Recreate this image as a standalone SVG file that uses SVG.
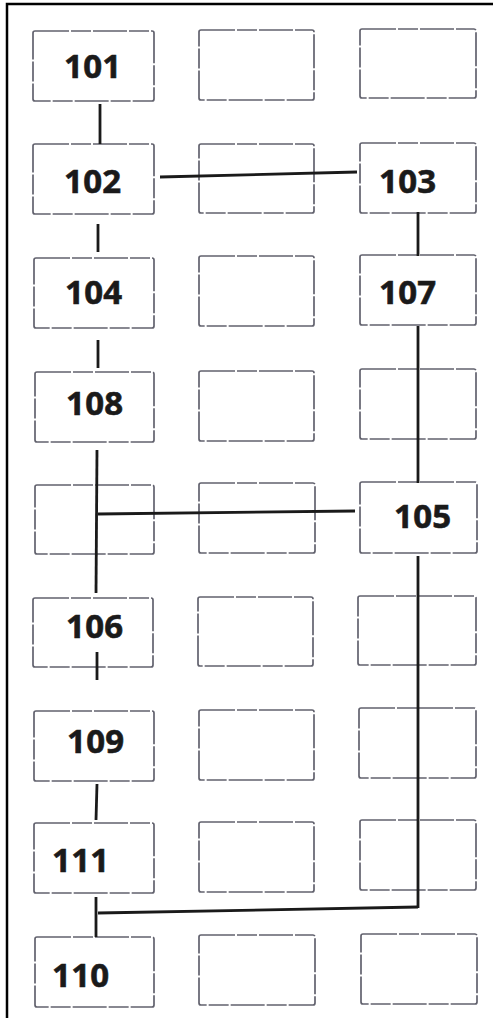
<svg xmlns="http://www.w3.org/2000/svg" width="493" height="1018" viewBox="0 0 493 1018">
<style>
.box{fill:#fff;stroke:#62626e;stroke-width:1.7;stroke-dasharray:34 2 20 2}
.lbl{font-family:"Open Sans","Liberation Sans",sans-serif;font-weight:bold;font-size:33px;fill:#1a1a1a;stroke:#1a1a1a;stroke-width:0.6;letter-spacing:0.3px}
.con{stroke:#1a1a1a;stroke-width:2.8;fill:none;stroke-linecap:butt}
.frame{stroke:#000;stroke-width:2.5;fill:none}
</style>
<rect width="493" height="1018" fill="#fff"/>
<path class="frame" d="M7,1018 V4 H493"/>
<g id="nodes">
<g id="n101"><rect class="box" x="33" y="31" width="121" height="70" rx="2"/><text class="lbl" x="64" y="78">101</text></g>
<g id="r1c2"><rect class="box" x="199" y="30" width="115" height="70" rx="2"/></g>
<g id="r1c3"><rect class="box" x="360" y="29" width="116" height="69" rx="2"/></g>
<g id="n102"><rect class="box" x="33" y="144" width="121" height="70" rx="2"/><text class="lbl" x="64" y="193">102</text></g>
<g id="r2c2"><rect class="box" x="199" y="144" width="115" height="69" rx="2"/></g>
<g id="n103"><rect class="box" x="360" y="143" width="116" height="70" rx="2"/><text class="lbl" x="379" y="193">103</text></g>
<g id="n104"><rect class="box" x="34" y="258" width="120" height="70" rx="2"/><text class="lbl" x="65" y="304">104</text></g>
<g id="r3c2"><rect class="box" x="199" y="256" width="115" height="70" rx="2"/></g>
<g id="n107"><rect class="box" x="360" y="255" width="116" height="70" rx="2"/><text class="lbl" x="379" y="304">107</text></g>
<g id="n108"><rect class="box" x="35" y="372" width="119" height="70" rx="2"/><text class="lbl" x="66" y="415">108</text></g>
<g id="r4c2"><rect class="box" x="199" y="371" width="115" height="70" rx="2"/></g>
<g id="r4c3"><rect class="box" x="360" y="369" width="116" height="70" rx="2"/></g>
<g id="r5c1"><rect class="box" x="35" y="485" width="119" height="69" rx="2"/></g>
<g id="r5c2"><rect class="box" x="199" y="483" width="116" height="70" rx="2"/></g>
<g id="n105"><rect class="box" x="360" y="482" width="117" height="71" rx="2"/><text class="lbl" x="394" y="528">105</text></g>
<g id="n106"><rect class="box" x="33" y="598" width="120" height="69" rx="2"/><text class="lbl" x="66" y="638">106</text></g>
<g id="r6c2"><rect class="box" x="198" y="597" width="115" height="69" rx="2"/></g>
<g id="r6c3"><rect class="box" x="358" y="596" width="118" height="69" rx="2"/></g>
<g id="n109"><rect class="box" x="34" y="711" width="120" height="70" rx="2"/><text class="lbl" x="67" y="753">109</text></g>
<g id="r7c2"><rect class="box" x="199" y="710" width="115" height="70" rx="2"/></g>
<g id="r7c3"><rect class="box" x="359" y="708" width="117" height="70" rx="2"/></g>
<g id="n111"><rect class="box" x="34" y="823" width="120" height="70" rx="2"/><text class="lbl" x="52" y="872">111</text></g>
<g id="r8c2"><rect class="box" x="199" y="822" width="115" height="70" rx="2"/></g>
<g id="r8c3"><rect class="box" x="360" y="820" width="116" height="70" rx="2"/></g>
<g id="n110"><rect class="box" x="35" y="937" width="119" height="70" rx="2"/><text class="lbl" x="52" y="987">110</text></g>
<g id="r9c2"><rect class="box" x="199" y="935" width="116" height="70" rx="2"/></g>
<g id="r9c3"><rect class="box" x="361" y="934" width="116" height="70" rx="2"/></g>
</g>
<g id="connectors">
<line class="con" x1="100" y1="104" x2="100" y2="144"/>
<line class="con" x1="160" y1="177" x2="357" y2="172"/>
<line class="con" x1="98" y1="224" x2="98" y2="252"/>
<line class="con" x1="418" y1="212" x2="418" y2="256"/>
<line class="con" x1="98" y1="340" x2="98" y2="368"/>
<line class="con" x1="418" y1="326" x2="418" y2="483"/>
<line class="con" x1="97" y1="450" x2="96" y2="593"/>
<line class="con" x1="98" y1="514" x2="355" y2="511"/>
<line class="con" x1="97" y1="652" x2="97" y2="680"/>
<line class="con" x1="97" y1="784" x2="96" y2="820"/>
<line class="con" x1="418" y1="556" x2="418" y2="908"/>
<line class="con" x1="98" y1="913" x2="418" y2="907"/>
<line class="con" x1="96" y1="897" x2="96" y2="937"/>
</g>
</svg>
